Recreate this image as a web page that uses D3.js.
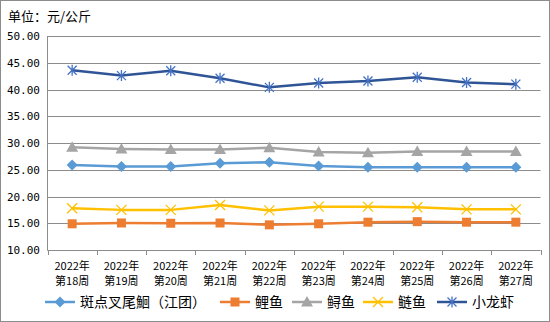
<!DOCTYPE html>
<html><head><meta charset="utf-8">
<script src="https://cdn.jsdelivr.net/npm/d3@7"></script>
<style>
body{margin:0;background:#fff;}
svg{display:block;font-family:"Noto Sans CJK SC",sans-serif;}
</style></head>
<body><svg id="c" width="550" height="322"></svg>
<script>
const weeks = ["第18周","第19周","第20周","第21周","第22周","第23周","第24周","第25周","第26周","第27周"];
const yearLabel = "2022年";
const yTicks = [10,15,20,25,30,35,40,45,50];
const seriesNames = ["斑点叉尾鮰（江团）","鲤鱼","鲟鱼","鲢鱼","小龙虾"];
const catfish = [25.9,25.6,25.6,26.2,26.4,25.7,25.45,25.45,25.45,25.45];
const carp = [14.9,15.05,15.0,15.05,14.7,14.9,15.2,15.3,15.2,15.2];
const sturgeon = [29.2,28.9,28.8,28.8,29.1,28.3,28.2,28.4,28.4,28.4];
const silverCarp = [17.8,17.5,17.5,18.4,17.4,18.1,18.1,18.0,17.6,17.6];
const crayfish = [43.6,42.6,43.5,42.1,40.4,41.2,41.6,42.3,41.3,41.0];

const colors = ["#5B9BD5","#ED7D31","#A5A5A5","#FFC000","#2F5597"];
const markerColors = ["#5B9BD5","#ED7D31","#A5A5A5","#FFC000","#4472C4"];
const markers = ["diamond","square","triangle","x","asterisk"];
const allSeries = [catfish,carp,sturgeon,silverCarp,crayfish];

const svg = d3.select("#c");
svg.append("rect").attr("x",0.5).attr("y",0.5).attr("width",549).attr("height",321)
  .attr("fill","#fff").attr("stroke","#8c8c8c");

const pL=47.5, pR=540.5, pT=36, pB=250;
const x = d3.scaleBand().domain(weeks).range([pL,pR]);
const y = d3.scaleLinear().domain([10,50]).range([pB,pT]);

svg.append("text").attr("x",8).attr("y",21).attr("font-size",13).attr("fill","#000").text("单位：元/公斤");

// gridlines
svg.append("g").selectAll("line").data(yTicks).join("line")
  .attr("x1",pL).attr("x2",pR).attr("y1",d=>Math.round(y(d))+0.5).attr("y2",d=>Math.round(y(d))+0.5)
  .attr("stroke","#8c8c8c").attr("stroke-width",1);
// y axis line
svg.append("line").attr("x1",pL).attr("x2",pL).attr("y1",pT).attr("y2",pB+0.5).attr("stroke","#8c8c8c");

// y labels
svg.append("g").selectAll("text").data(yTicks).join("text")
  .attr("x",40).attr("y",d=>y(d)+4).attr("text-anchor","end")
  .attr("font-family","'DejaVu Sans Mono',monospace").attr("font-size",11).attr("fill","#000")
  .text(d=>d3.format(".2f")(d));

// x ticks at band edges
const edges = weeks.map(w=>x(w)).concat([pR]);
svg.append("g").selectAll("line").data(edges).join("line")
  .attr("x1",d=>Math.round(d)+0.5).attr("x2",d=>Math.round(d)+0.5).attr("y1",pB).attr("y2",pB+5)
  .attr("stroke","#8c8c8c");

const xl = svg.append("g").selectAll("text").data(weeks).join("text")
  .attr("text-anchor","middle").attr("font-size",11).attr("fill","#000");
xl.append("tspan").attr("x",d=>x(d)+x.bandwidth()/2).attr("y",270).text(yearLabel);
xl.append("tspan").attr("x",d=>x(d)+x.bandwidth()/2).attr("y",285).text(d=>d);

function drawMarker(g,type,cx,cy,color){
  if(type==="diamond"){
    g.append("path").attr("d",`M${cx},${cy-5.5}L${cx+5.5},${cy}L${cx},${cy+5.5}L${cx-5.5},${cy}Z`).attr("fill",color);
  } else if(type==="square"){
    g.append("rect").attr("x",cx-4.5).attr("y",cy-4.5).attr("width",9).attr("height",9).attr("fill",color);
  } else if(type==="triangle"){
    g.append("path").attr("d",`M${cx},${cy-6}L${cx+6},${cy+4.5}L${cx-6},${cy+4.5}Z`).attr("fill",color);
  } else if(type==="x"){
    g.append("path").attr("d",`M${cx-5},${cy-5}L${cx+5},${cy+5}M${cx+5},${cy-5}L${cx-5},${cy+5}`).attr("stroke",color).attr("stroke-width",1.3);
  } else {
    g.append("path").attr("d",`M${cx-4.5},${cy-4.5}L${cx+4.5},${cy+4.5}M${cx+4.5},${cy-4.5}L${cx-4.5},${cy+4.5}M${cx},${cy-5.5}L${cx},${cy+5.5}`).attr("stroke",color).attr("stroke-width",1.3);
  }
}

const line = d3.line().x((d,i)=>x(weeks[i])+x.bandwidth()/2).y(d=>y(d));
allSeries.forEach((s,k)=>{
  const g = svg.append("g");
  g.append("path").datum(s).attr("d",line).attr("fill","none").attr("stroke",colors[k])
    .attr("stroke-width",2.5).attr("stroke-linejoin","round").attr("stroke-linecap","round");
  s.forEach((v,i)=>drawMarker(g,markers[k],x(weeks[i])+x.bandwidth()/2,y(v),markerColors[k]));
});

// legend
const legX = [45,220,292,363,437];
const lg = svg.append("g");
seriesNames.forEach((n,k)=>{
  const lx = legX[k], ly = 302;
  lg.append("line").attr("x1",lx).attr("x2",lx+30).attr("y1",ly).attr("y2",ly).attr("stroke",colors[k]).attr("stroke-width",2.5);
  drawMarker(lg,markers[k],lx+15,ly,markerColors[k]);
  lg.append("text").attr("x",lx+35).attr("y",ly+5).attr("font-size",14).attr("fill","#000").text(n);
});
</script></body></html>
